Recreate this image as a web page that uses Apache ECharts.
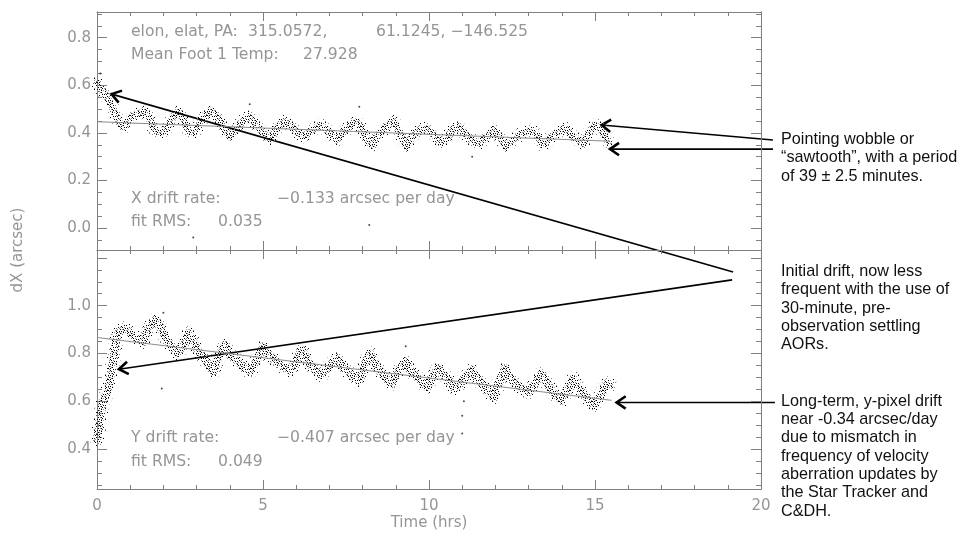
<!DOCTYPE html>
<html><head><meta charset="utf-8">
<script src="https://cdn.jsdelivr.net/npm/echarts@6/dist/echarts.min.js"></script>
<style>html,body{margin:0;padding:0;background:#fff}#c{width:964px;height:533px}</style>
</head><body><div id="c"></div>
<script>
// ---------------- data ----------------
const xTickValues = [0, 5, 10, 15, 20];
const topYTickValues = [0.0, 0.2, 0.4, 0.6, 0.8];
const topYLabelValues = [0.0, 0.2, 0.4, 0.6, 0.8];
const botYTickValues = [0.4, 0.6, 0.8, 1.0, 1.2];
const botYLabelValues = [0.4, 0.6, 0.8, 1.0];
const topYRange = [-0.092, 0.908];
const botYRange = [0.233, 1.233];

// top panel (X) pointing trace
const topTime = [0.00,0.14,0.29,0.44,0.54,0.69,0.84,0.94,1.14,1.40,1.55,1.70,1.90,2.10,2.30,2.45,2.60,2.75,2.90,3.05,3.25,3.45,3.65,3.86,4.00,4.16,4.36,4.56,4.76,5.06,5.20,5.41,5.61,5.81,5.96,6.21,6.42,6.72,6.92,7.22,7.42,7.62,7.82,7.97,8.12,8.27,8.42,8.67,8.83,8.92,9.08,9.23,9.33,9.48,9.68,9.88,10.08,10.33,10.53,10.68,10.88,11.08,11.29,11.49,11.69,11.94,12.14,12.34,12.54,12.79,13.09,13.29,13.44,13.64,13.89,14.10,14.30,14.50,14.65,14.80,15.00,15.20,15.40];
const topDx = [0.610,0.580,0.552,0.517,0.480,0.440,0.425,0.454,0.475,0.489,0.468,0.419,0.398,0.419,0.468,0.489,0.454,0.412,0.398,0.426,0.475,0.492,0.461,0.412,0.384,0.412,0.447,0.468,0.440,0.390,0.375,0.420,0.447,0.433,0.412,0.384,0.405,0.433,0.412,0.370,0.398,0.433,0.447,0.419,0.377,0.349,0.384,0.419,0.440,0.454,0.412,0.370,0.342,0.384,0.412,0.419,0.405,0.363,0.375,0.412,0.426,0.398,0.370,0.356,0.377,0.412,0.377,0.342,0.370,0.398,0.412,0.384,0.349,0.377,0.405,0.419,0.390,0.370,0.356,0.398,0.433,0.412,0.363];
const topStrayTime = [2.9, 8.2, 0.1, 11.3, 7.9, 4.6];
const topStrayDx = [-0.04, 0.013, 0.65, 0.30, 0.51, 0.52];
const topFitTime = [0, 15.45];
const topFitDx = [0.447, 0.365];

// bottom panel (Y) pointing trace
const botTime = [0.00,0.05,0.09,0.18,0.30,0.39,0.48,0.54,0.60,0.69,0.84,0.99,1.19,1.40,1.55,1.75,1.90,2.05,2.25,2.45,2.60,2.75,2.90,3.10,3.30,3.50,3.65,3.86,4.00,4.22,4.41,4.61,4.81,5.01,5.21,5.41,5.61,5.81,6.01,6.17,6.37,6.57,6.77,6.97,7.22,7.42,7.67,7.87,8.07,8.22,8.42,8.67,8.88,9.08,9.28,9.48,9.73,9.93,10.13,10.28,10.53,10.78,11.03,11.29,11.49,11.74,11.94,12.14,12.29,12.49,12.74,12.99,13.19,13.39,13.59,13.80,14.00,14.15,14.35,14.55,14.75,14.95,15.15,15.35,15.45];
const botDy = [0.440,0.480,0.530,0.600,0.633,0.688,0.760,0.814,0.885,0.895,0.905,0.884,0.863,0.849,0.905,0.940,0.912,0.870,0.828,0.800,0.842,0.884,0.849,0.800,0.765,0.723,0.786,0.835,0.793,0.772,0.744,0.723,0.772,0.828,0.790,0.765,0.744,0.730,0.772,0.814,0.765,0.730,0.709,0.744,0.779,0.744,0.709,0.688,0.758,0.800,0.744,0.702,0.674,0.730,0.765,0.723,0.688,0.660,0.709,0.737,0.700,0.653,0.688,0.730,0.688,0.653,0.618,0.688,0.737,0.688,0.660,0.639,0.674,0.716,0.667,0.625,0.604,0.646,0.695,0.646,0.618,0.583,0.618,0.674,0.670];
const botStrayTime = [11.0, 11.0, 1.95, 11.05, 9.3, 2.0];
const botStrayDy = [0.465, 0.54, 0.654, 0.60, 0.83, 0.97];
const botFitTime = [0, 15.5];
const botFitDy = [0.867, 0.604];

// annotation arrows, in each panel's data units (tail -> head)
const topArrowTail = [[20.36, 0.370], [20.36, 0.332], [19.16, -0.184]];
const topArrowHead = [[15.20, 0.433], [15.45, 0.332], [0.44, 0.563]];
const botArrowTail = [[19.13, 1.108], [20.42, 0.595]];
const botArrowHead = [[0.66, 0.734], [15.65, 0.595]];

// ---------------- chart ----------------
const AX = '#808080';
const TXT = '#959595';
const FONT = 'DejaVu Sans';

function zip(a, b) { return a.map((v, i) => [v, b[i]]); }
function minorList(lo, hi, step) { const r = []; for (let v = Math.ceil(lo / step) * step; v <= hi + 1e-9; v += step) r.push(+v.toFixed(3)); return r; }

// speckle textures (style only)
function tile(black, grey) {
  const c = document.createElement('canvas'); c.width = 11; c.height = 11;
  const g = c.getContext('2d');
  g.fillStyle = '#000'; black.forEach(p => g.fillRect(p[0], p[1], 1, 1));
  g.fillStyle = '#888'; grey.forEach(p => g.fillRect(p[0], p[1], 1, 1));
  return { image: c, repeat: 'repeat' };
}
const innerTex = tile([[0,1],[3,0],[7,2],[9,5],[2,4],[5,6],[8,8],[1,8],[4,9],[10,10],[6,3],[0,5],[9,1],[3,6],[6,9],[10,3],[2,10],[7,6]],
                      [[2,1],[6,5],[10,6],[3,8],[7,10],[1,10],[5,0],[8,4],[0,3],[4,2],[9,9]]);
const outerTex = tile([[2,2],[8,5],[4,9],[0,7],[6,1]], [[6,0],[10,8],[1,4],[9,2]]);

function xAx(grid, pos, labels) {
  return {
    type: 'value', gridIndex: grid, position: pos, min: 0, max: 20, interval: 5,
    axisLine: { show: true, onZero: false, lineStyle: { color: AX, width: 1 } },
    axisTick: { show: true, inside: true, length: 9, lineStyle: { color: AX } },
    minorTick: { show: true, splitNumber: 5, length: 4, lineStyle: { color: AX } },
    axisLabel: { show: labels, color: TXT, fontFamily: FONT, fontSize: 15, margin: 10 },
    splitLine: { show: false }, minorSplitLine: { show: false },
    name: labels ? 'Time (hrs)' : '', nameLocation: 'middle', nameGap: 27,
    nameTextStyle: { color: TXT, fontFamily: FONT, fontSize: 15 }
  };
}
function yAx(grid, pos, range, ticks, len, labels) {
  return {
    type: 'value', gridIndex: grid, position: pos, min: range[0], max: range[1],
    axisLine: { show: true, onZero: false, lineStyle: { color: AX, width: 1 } },
    axisTick: { show: true, inside: true, length: len, customValues: ticks, lineStyle: { color: AX } },
    axisLabel: labels ? { show: true, customValues: labels, color: TXT, fontFamily: FONT, fontSize: 15, margin: 6,
                          formatter: v => v.toFixed(1) } : { show: false },
    splitLine: { show: false }
  };
}

const topMinor = minorList(topYRange[0], topYRange[1], 0.05);
const botMinor = minorList(botYRange[0], botYRange[1], 0.05);

function band(xi, yi, data, w, tex) {
  return { type: 'line', xAxisIndex: xi, yAxisIndex: yi, data: data, showSymbol: false, symbol: 'none', silent: true,
           lineStyle: { color: tex, width: w, join: 'round', cap: 'round' } };
}

const chart = echarts.init(document.getElementById('c'), null, { renderer: 'canvas' });
chart.setOption({
  animation: false,
  backgroundColor: '#fff',
  grid: [
    { left: 97, top: 12, width: 664, height: 238 },
    { left: 97, top: 250, width: 664, height: 239 }
  ],
  xAxis: [xAx(0, 'bottom', false), xAx(0, 'top', false), xAx(1, 'bottom', true), xAx(1, 'top', false)],
  yAxis: [
    yAx(0, 'left', topYRange, topYTickValues, 10, topYLabelValues),
    yAx(0, 'left', topYRange, topMinor, 5, null),
    yAx(0, 'right', topYRange, topYTickValues, 10, null),
    yAx(0, 'right', topYRange, topMinor, 5, null),
    yAx(1, 'left', botYRange, botYTickValues, 10, botYLabelValues),
    yAx(1, 'left', botYRange, botMinor, 5, null),
    yAx(1, 'right', botYRange, botYTickValues, 10, null),
    yAx(1, 'right', botYRange, botMinor, 5, null)
  ],
  series: [
    band(0, 0, zip(topTime, topDx), 13, outerTex),
    band(0, 0, zip(topTime, topDx), 7, innerTex),
    band(2, 4, zip(botTime, botDy), 14, outerTex),
    band(2, 4, zip(botTime, botDy), 8, innerTex),
    { type: 'scatter', xAxisIndex: 0, yAxisIndex: 0, data: zip(topStrayTime, topStrayDx), symbolSize: 2, itemStyle: { color: '#222' } },
    { type: 'scatter', xAxisIndex: 2, yAxisIndex: 4, data: zip(botStrayTime, botStrayDy), symbolSize: 2, itemStyle: { color: '#222' } },
    { type: 'line', xAxisIndex: 0, yAxisIndex: 0, data: zip(topFitTime, topFitDx), symbol: 'none',
      lineStyle: { color: '#8c8c8c', width: 1 } },
    { type: 'line', xAxisIndex: 2, yAxisIndex: 4, data: zip(botFitTime, botFitDy), symbol: 'none',
      lineStyle: { color: '#8c8c8c', width: 1 } }
  ]
});

// ---------------- annotations ----------------
const g = [];
function txt(x, y, s) {
  g.push({ type: 'text', x: x, y: y, silent: true, scaleX: 1.04,
    style: { text: s, fill: TXT, font: '15px "DejaVu Sans"', textVerticalAlign: 'middle' } });
}
txt(131, 32, 'elon, elat, PA:'); txt(248, 32, '315.0572,'); txt(376, 32, '61.1245, \u2212146.525');
txt(131, 55, 'Mean Foot 1 Temp:'); txt(303, 55, '27.928');
txt(131, 199, 'X drift rate:'); txt(277, 199, '\u22120.133 arcsec per day');
txt(131, 222, 'fit RMS:'); txt(218, 222, '0.035');
txt(131, 438, 'Y drift rate:'); txt(277, 438, '\u22120.407 arcsec per day');
txt(131, 462, 'fit RMS:'); txt(218, 462, '0.049');
g.push({ type: 'text', x: 18, y: 250, rotation: Math.PI / 2, silent: true,
  style: { text: 'dX (arcsec)', fill: TXT, font: '15px "DejaVu Sans"', textAlign: 'center', textVerticalAlign: 'middle' } });

const rightLines = [
  ['Pointing wobble or', 140], ['\u201csawtooth\u201d, with a period', 158], ['of 39 \u00b1 2.5 minutes.', 177],
  ['Initial drift, now less', 272], ['frequent with the use of', 290], ['30-minute, pre-', 309],
  ['observation settling', 327], ['AORs.', 345],
  ['Long-term, y-pixel drift', 402], ['near -0.34 arcsec/day', 420], ['due to mismatch in', 438],
  ['frequency of velocity', 457], ['aberration updates by', 475], ['the Star Tracker and', 493], ['C&DH.', 512]
];
rightLines.forEach(l => g.push({ type: 'text', x: 781, y: l[1], silent: true,
  style: { text: l[0], fill: '#111', font: '16.2px "Liberation Sans", Arial, sans-serif', textVerticalAlign: 'middle' } }));

function arrow(finder, tail, head) {
  const a = chart.convertToPixel(finder, tail), b = chart.convertToPixel(finder, head);
  g.push({ type: 'line', silent: true, shape: { x1: a[0], y1: a[1], x2: b[0], y2: b[1] },
    style: { stroke: '#000', lineWidth: 1.6 } });
  const ang = Math.atan2(a[1] - b[1], a[0] - b[0]), L = 11, s = 0.6;
  g.push({ type: 'polyline', silent: true,
    shape: { points: [[b[0] + L * Math.cos(ang + s), b[1] + L * Math.sin(ang + s)], [b[0], b[1]],
                      [b[0] + L * Math.cos(ang - s), b[1] + L * Math.sin(ang - s)]] },
    style: { stroke: '#000', lineWidth: 2.6, fill: null, lineJoin: 'miter' } });
}
topArrowTail.forEach((t, i) => arrow({ xAxisIndex: 0, yAxisIndex: 0 }, t, topArrowHead[i]));
botArrowTail.forEach((t, i) => arrow({ xAxisIndex: 2, yAxisIndex: 4 }, t, botArrowHead[i]));

chart.setOption({ graphic: { elements: g } });
</script>
</body></html>
